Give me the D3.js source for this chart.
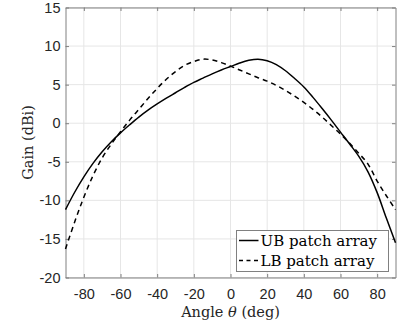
<!DOCTYPE html>
<html>
<head>
<meta charset="utf-8">
<script src="https://cdn.jsdelivr.net/npm/d3@7"></script>
<style>
    body { margin: 0; background: #fff; }
    svg { display: block; }
</style>
</head>
<body>
<div id="chart"></div>
<script>
// Angle grid (deg) shared by both patterns
const angles = [-90, -85, -80, -75, -70, -65, -60, -55, -50, -45, -40, -35, -30, -25, -20, -15, -10, -5,
    0, 5, 10, 15, 20, 25, 30, 35, 40, 45, 50, 55, 60, 65, 70, 75, 80, 85, 90];

// Gain (dBi)
const ubGain = [-11.2, -8.95, -6.95, -5.2, -3.7, -2.4, -1.25, -0.2, 0.8, 1.7, 2.5, 3.25, 3.95, 4.65, 5.3, 5.85, 6.4, 6.9,
    7.35, 7.8, 8.15, 8.3, 8.1, 7.6, 6.8, 5.8, 4.7, 3.35, 1.9, 0.4, -1.15, -2.7, -4.3, -6.3, -9.0, -12.3, -15.5];
const lbGain = [-16.3, -12.8, -9.6, -6.8, -4.5, -2.7, -1.1, 0.4, 1.8, 3.2, 4.5, 5.7, 6.7, 7.5, 8.0, 8.3, 8.2, 7.85,
    7.4, 6.9, 6.4, 5.9, 5.45, 4.9, 4.25, 3.5, 2.7, 1.8, 0.8, -0.3, -1.4, -2.6, -3.9, -5.3, -7.5, -9.4, -11.2];

const xTicks = [-80, -60, -40, -20, 0, 20, 40, 60, 80];
const yTicks = [-20, -15, -10, -5, 0, 5, 10, 15];
const seriesNames = ['UB patch array', 'LB patch array'];

const width = 398, height = 331;
const margin = { top: 7.5, right: 2.5, bottom: 53.5, left: 65.5 };
const boundedWidth = width - margin.left - margin.right;
const boundedHeight = height - margin.top - margin.bottom;

const svg = d3.select('#chart').append('svg')
    .attr('width', width)
    .attr('height', height);

const bounds = svg.append('g')
    .attr('transform', `translate(${margin.left}, ${margin.top})`);

const xScale = d3.scaleLinear().domain([-90, 90]).range([0, boundedWidth]);
const yScale = d3.scaleLinear().domain([-20, 15]).range([boundedHeight, 0]);

// grid lines
bounds.append('g')
    .selectAll('line')
    .data(xTicks)
    .join('line')
    .attr('x1', d => xScale(d)).attr('x2', d => xScale(d))
    .attr('y1', 0).attr('y2', boundedHeight)
    .attr('stroke', '#e6e6e6').attr('stroke-width', 1);

bounds.append('g')
    .selectAll('line')
    .data(yTicks)
    .join('line')
    .attr('x1', 0).attr('x2', boundedWidth)
    .attr('y1', d => yScale(d)).attr('y2', d => yScale(d))
    .attr('stroke', '#e6e6e6').attr('stroke-width', 1);

// axes, matlab style: ticks pointing in, box on
const tickLen = 3.5;
const plainNum = d => String(d);   // keep ascii hyphen for negatives
const styleAxis = g => {
    g.select('.domain').attr('stroke', '#808080');
    g.selectAll('.tick line').attr('stroke', '#808080');
    g.selectAll('.tick text')
        .attr('fill', '#262626')
        .style('font-family', '"Liberation Sans", Arial, sans-serif')
        .style('font-size', '14.5px');
};

bounds.append('g')
    .attr('transform', `translate(0, ${boundedHeight})`)
    .call(d3.axisBottom(xScale).tickValues(xTicks).tickFormat(plainNum).tickSize(-tickLen).tickSizeOuter(0).tickPadding(11))
    .call(styleAxis);

bounds.append('g')
    .call(d3.axisTop(xScale).tickValues(xTicks).tickSize(-tickLen).tickSizeOuter(0).tickFormat(''))
    .call(styleAxis);

bounds.append('g')
    .call(d3.axisLeft(yScale).tickValues(yTicks).tickFormat(plainNum).tickSize(-tickLen).tickSizeOuter(0).tickPadding(5))
    .call(styleAxis);

bounds.append('g')
    .attr('transform', `translate(${boundedWidth}, 0)`)
    .call(d3.axisRight(yScale).tickValues(yTicks).tickSize(-tickLen).tickSizeOuter(0).tickFormat(''))
    .call(styleAxis);

// curves
const line = (gains) => d3.line()
    .x((d, i) => xScale(angles[i]))
    .y(d => yScale(d))
    .curve(d3.curveCatmullRom.alpha(0.5))(gains);

bounds.append('path')
    .attr('d', line(ubGain))
    .attr('fill', 'none')
    .attr('stroke', '#000')
    .attr('stroke-width', 1.5);

bounds.append('path')
    .attr('d', line(lbGain))
    .attr('fill', 'none')
    .attr('stroke', '#000')
    .attr('stroke-width', 1.5)
    .attr('stroke-dasharray', '5,4');

// axis titles
const serif = '"DejaVu Serif", "Liberation Serif", serif';

const xTitle = svg.append('text')
    .attr('x', margin.left + boundedWidth / 2)
    .attr('y', 317)
    .attr('text-anchor', 'middle')
    .attr('fill', '#262626')
    .style('font-family', serif)
    .style('font-size', '14.5px');
xTitle.append('tspan').text('Angle ');
xTitle.append('tspan').style('font-style', 'italic').text('θ');
xTitle.append('tspan').text(' (deg)');

svg.append('text')
    .attr('transform', `translate(33, ${margin.top + boundedHeight / 2}) rotate(-90)`)
    .attr('text-anchor', 'middle')
    .attr('fill', '#262626')
    .style('font-family', serif)
    .style('font-size', '14.5px')
    .text('Gain (dBi)');

// legend
const legend = svg.append('g').attr('transform', 'translate(236.5, 230.5)');

legend.append('rect')
    .attr('width', 152).attr('height', 41)
    .attr('fill', '#fff')
    .attr('stroke', '#808080');

const rows = legend.selectAll('g.row')
    .data(seriesNames)
    .join('g')
    .attr('transform', (d, i) => `translate(0, ${10 + i * 20})`);

rows.append('line')
    .attr('x1', 2.5).attr('x2', 22)
    .attr('stroke', '#000')
    .attr('stroke-width', 1.5)
    .attr('stroke-dasharray', (d, i) => i === 0 ? null : '4,3.5');

rows.append('text')
    .attr('x', 24)
    .attr('dy', '0.35em')
    .attr('fill', '#000')
    .style('font-family', serif)
    .style('font-size', '15px')
    .text(d => d);
</script>
</body>
</html>
